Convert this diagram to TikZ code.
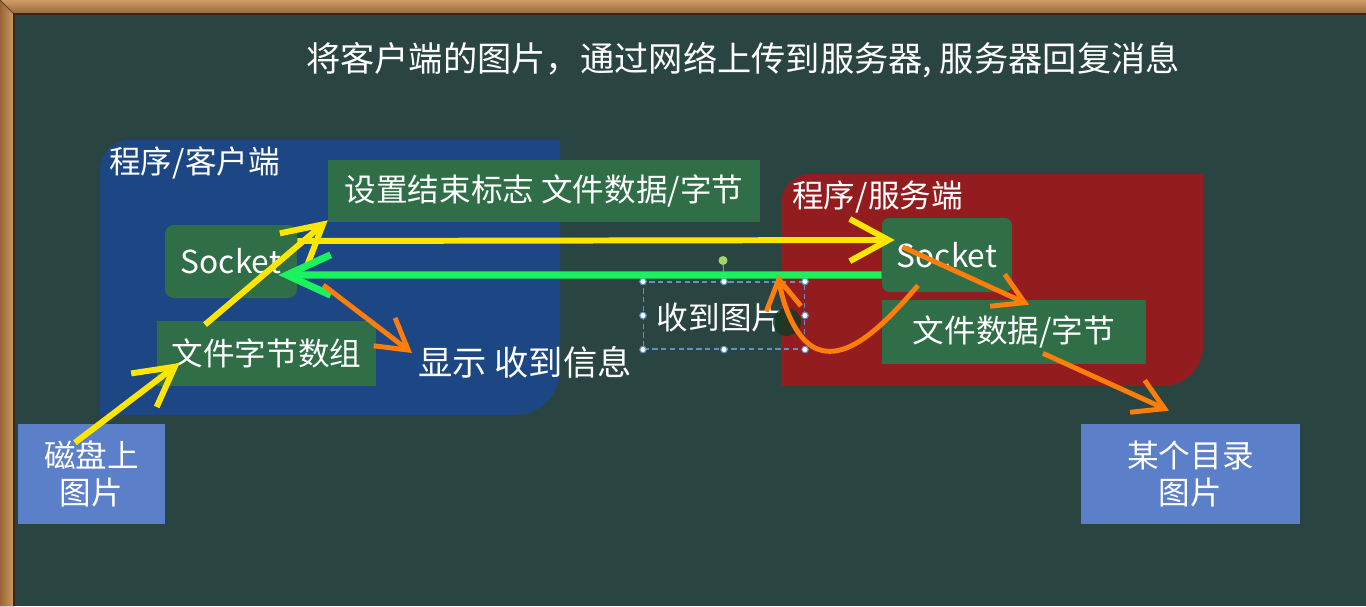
\documentclass[tikz,border=0pt]{standalone}
\usepackage{fontspec}
\newfontfamily\cjk{Noto Sans CJK SC}
\usetikzlibrary{arrows.meta,calc}
\definecolor{board}{HTML}{2A4541}
\definecolor{woodA}{HTML}{CD9C64}
\definecolor{woodB}{HTML}{9A6536}
\definecolor{wooddark}{HTML}{3A2616}
\definecolor{clientblue}{HTML}{1D4784}
\definecolor{serverred}{HTML}{931C1F}
\definecolor{boxgreen}{HTML}{2F6E47}
\definecolor{lightblue}{HTML}{5B80C9}
\definecolor{ayellow}{HTML}{FFE600}
\definecolor{agreen}{HTML}{1AF25E}
\definecolor{aorange}{HTML}{FF7D0A}
\definecolor{selblue}{HTML}{5E93C4}
\definecolor{rothandle}{HTML}{A6D46C}
\definecolor{cursorgreen}{HTML}{0E3B22}
\begin{document}
\begin{tikzpicture}[x=0.02cm,y=-0.02cm,
  txt/.style={text=white,inner sep=0pt,font=\cjk\fontsize{18}{21}\selectfont},
  bigtxt/.style={text=white,inner sep=0pt,font=\cjk\fontsize{19.5}{23}\selectfont},
  gbox/.style={txt,fill=boxgreen},
  lbox/.style={txt,fill=lightblue,align=center},
  yarrow/.style={draw=ayellow,line width=3.4pt,-{Straight Barb[length=22pt,width=24pt]}},
  garrow/.style={draw=agreen,line width=4pt,-{Straight Barb[length=25pt,width=23pt]}},
  oarrow/.style={draw=aorange,line width=2.8pt,-{Straight Barb[length=17pt,width=20pt]}},
  handle/.style={circle,fill=white,draw=selblue,line width=0.6pt,inner sep=0pt,minimum size=0.13cm},
]
\useasboundingbox (0,0) rectangle (1366,606);
% board
\fill[board] (0,0) rectangle (1366,606);
% wooden frame
\fill[top color=woodA,bottom color=woodB] (0,0) -- (1366,0) -- (1366,14) -- (14,14) -- cycle;
\fill[left color=woodB,right color=woodA] (0,0) -- (14,14) -- (14,606) -- (0,606) -- cycle;
\draw[wooddark!60!woodB,line width=0.5pt] (0,0) -- (14,14);
\draw[wooddark,line width=1.4pt] (14,606) -- (14,14) -- (1366,14);
% regions
\fill[clientblue] (100,415) -- (100,170) .. controls (100,153.4) and (113.4,140) .. (130,140)
  -- (560,140) -- (560,370) .. controls (560,394.9) and (539.9,415) .. (515,415) -- cycle;
\fill[serverred] (781,386) -- (781,204) .. controls (781,187.4) and (794.4,174) .. (811,174)
  -- (1203,174) -- (1203,346) .. controls (1203,368.1) and (1185.1,386) .. (1163,386) -- cycle;
% title and labels
\node[bigtxt] (title) at (743,60) {将客户端的图片，通过网络上传到服务器, 服务器回复消息};
\node[txt,anchor=west] (clientLabel) at (109,163) {程序/客户端};
\node[txt,anchor=west] (serverLabel) at (792,197) {程序/服务端};
% boxes
\node[gbox,minimum width=8.64cm,minimum height=1.24cm] (setBox) at (544,191) {设置结束标志 文件数据/字节};
\node[gbox,rounded corners=5pt,minimum width=2.64cm,minimum height=1.46cm] (sockC) at (231,261.5) {Socket};
\node[gbox,minimum width=4.38cm,minimum height=1.3cm] (arrC) at (266.5,353.5) {文件字节数组};
\node[gbox,rounded corners=4pt,minimum width=2.6cm,minimum height=1.48cm] (sockS) at (947,255) {Socket};
\node[gbox,minimum width=5.28cm,minimum height=1.28cm] (dataS) at (1014,332) {文件数据/字节};
\node[lbox,minimum width=2.94cm,minimum height=2cm] (disk) at (91.5,474) {磁盘上\\图片};
\node[lbox,minimum width=4.38cm,minimum height=2cm] (dir) at (1190.5,474) {某个目录\\图片};
\node[bigtxt,anchor=west] (show) at (418,362) {显示 收到信息};
\node[txt] (recv) at (720,318) {收到图片};
% selection frame round the text 收到图片
\node[draw=selblue,dash pattern=on 3pt off 2pt,line width=0.6pt,inner sep=0pt,
      minimum width=3.22cm,minimum height=1.34cm] (sel) at (724,315.5) {};
\foreach \a [count=\i] in {north west,north,north east,west,east,south west,south,south east}
  \node[handle] (h\i) at (sel.\a) {};
\coordinate (rot) at ($(sel.north)+(-1,-21)$);
\draw[selblue,line width=0.6pt] (h2) -- (rot);
\node[circle,fill=rothandle,inner sep=0pt,minimum size=0.18cm] (rotH) at (rot) {};
\node[circle,fill=cursorgreen,opacity=0.8,inner sep=0pt,minimum size=0.56cm] (cursor) at (787,322) {};
% connectors
\draw[yarrow] ([shift={(-16.5,19)}]disk.north) -- ([shift={(23,9.5)}]arrC.west);
\draw[yarrow] ([shift={(-61.5,4)}]arrC.north) -- ([shift={(0,-2)}]setBox.south west);
\draw[yarrow] ([shift={(0,-20.5)}]sockC.east) -- ([shift={(13,-15)}]sockS.west);
\draw[garrow] ([shift={(0,20)}]sockS.west) -- ([shift={(-19,13.5)}]sockC.east);
\draw[oarrow] ([shift={(26,23.5)}]sockC.east) -- ([shift={(-6,-9)}]show.west);
\draw[oarrow] ([shift={(21,-8)}]sockS.west) -- ([shift={(15,5)}]dataS.north);
\draw[oarrow] ([shift={(-29,-7)}]sockS.south) .. controls (880,330) and (845,362) .. (815,348)
  .. controls (795,338) and (783,305) .. ([shift={(-27,-7)}]sel.north east);
\draw[oarrow] ([shift={(29,-11)}]dataS.south) -- ([shift={(-21.5,-13)}]dir.north);
\end{tikzpicture}
\end{document}
